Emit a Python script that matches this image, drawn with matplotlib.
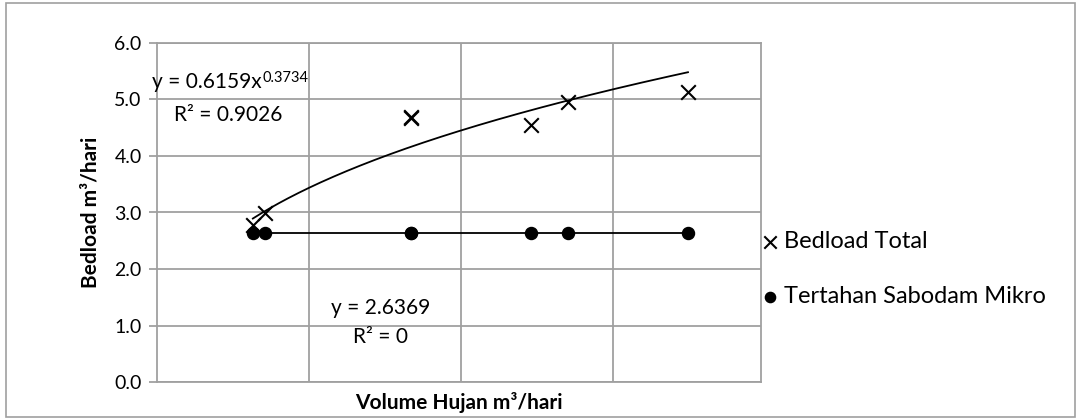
import numpy as np
import matplotlib
matplotlib.use('Agg')
import matplotlib.pyplot as plt
from matplotlib.patches import Rectangle

plt.rcParams['font.family'] = ['Lato', 'DejaVu Sans']

# data
volume_hujan = [63, 71, 167, 167, 246, 270, 349]
bedload_total = [2.78, 2.99, 4.67, 4.69, 4.55, 4.95, 5.14]
tertahan = [2.6369] * 7
y_ticks = [0.0, 1.0, 2.0, 3.0, 4.0, 5.0, 6.0]

# trend line coefficients (from the chart)
pw_a, pw_b = 0.6159, 0.3734
flat_c = 2.6369

fig = plt.figure(figsize=(10.81, 4.19), dpi=100)
ax = fig.add_axes([157/1081, 1 - 382/419, (761 - 157)/1081, (382 - 43)/419])

gray = '#a0a0a0'
ax.set_xlim(0, 397)
ax.set_ylim(0, 6)
ax.set_xticks([100, 200, 300])
ax.set_xticklabels([])
ax.set_yticks(y_ticks)
ax.set_yticklabels([f'{v:.1f}' for v in y_ticks], fontsize=14)
ax.grid(True, color=gray, linewidth=1.3)
ax.set_axisbelow(True)
ax.tick_params(axis='x', length=0)
ax.tick_params(axis='y', length=6, color=gray, width=1.3, pad=5)
for s in ax.spines.values():
    s.set_color(gray)
    s.set_linewidth(1.3)

# trend lines
xs = np.linspace(min(volume_hujan), max(volume_hujan), 200)
ax.plot(xs, pw_a * xs ** pw_b, color='black', linewidth=1.3, zorder=3)
ax.plot([min(volume_hujan), max(volume_hujan)], [flat_c, flat_c], color='black', linewidth=1.3, zorder=3)

# scatter
ax.scatter(volume_hujan, bedload_total, marker='x', s=110, color='black', linewidths=1.5, zorder=4,
           label='Bedload Total')
ax.scatter(volume_hujan, tertahan, marker='o', s=75, color='black', zorder=4,
           label='Tertahan Sabodam Mikro')

# trendline equations
eq = ax.text(-0.008, 0.885, f'y = {pw_a}x', transform=ax.transAxes, fontsize=15,
             ha='left', va='center')
ax.annotate(f'{pw_b}', xy=(1, 1), xycoords=eq, xytext=(0.5, 1), textcoords='offset points',
            fontsize=10.5, ha='left', va='top')
ax.text(0.118, 0.788, 'R² = 0.9026', transform=ax.transAxes, fontsize=15, ha='center', va='center')
ax.text(0.371, 0.218, f'y = {flat_c}', transform=ax.transAxes, fontsize=15, ha='center', va='center')
ax.text(0.37, 0.133, 'R² = 0', transform=ax.transAxes, fontsize=15, ha='center', va='center')

ax.set_ylabel('Bedload m³/hari', fontsize=15, fontweight='bold', labelpad=10)
ax.set_xlabel('Volume Hujan m³/hari', fontsize=15, fontweight='bold', labelpad=4)

leg = fig.legend(loc='center left', bbox_to_anchor=(763/1081, 1 - 269/419), frameon=False,
                 fontsize=17, handlelength=0.6, handletextpad=0.3, labelspacing=1.45,
                 borderaxespad=0, borderpad=0, scatterpoints=1, markerscale=0.85)

# figure border
fig.patches.append(Rectangle((6/1081, 2/419), 1 - 12/1081, 1 - 5/419, transform=fig.transFigure,
                             fill=False, edgecolor=gray, linewidth=1.2))

fig.savefig('out.png', dpi=100)
